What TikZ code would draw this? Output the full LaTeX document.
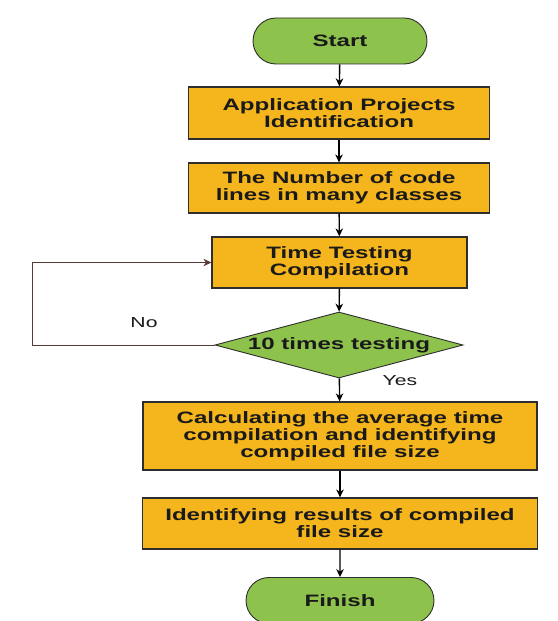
\documentclass[tikz,border=0pt]{standalone}
\usepackage{fontspec}
\setmainfont{Liberation Sans}[FakeStretch=1.46]
\usetikzlibrary{shapes.misc,shapes.geometric,arrows.meta}
\definecolor{boxfill}{HTML}{F5B51C}
\definecolor{termfill}{HTML}{8DC24C}
\definecolor{edgegrey}{HTML}{2E2E2E}
\definecolor{loopcol}{HTML}{5A3A34}
\definecolor{txt}{HTML}{1A1A1A}
\begin{document}
\begin{tikzpicture}[x=1bp,y=-1bp,
  every node/.style={text=txt},
  procbox/.style={rectangle,draw=edgegrey,line width=1.2bp,fill=boxfill,
    align=center,inner sep=0pt,font=\fontsize{16.5bp}{17bp}\selectfont\bfseries},
  term/.style={rounded rectangle,draw=edgegrey,line width=0.9bp,fill=termfill,
    inner sep=0pt,font=\fontsize{16.5bp}{17bp}\selectfont\bfseries},
  decision/.style={diamond,draw=edgegrey,line width=0.9bp,fill=termfill,inner sep=0pt},
  flow/.style={line width=1.4bp,-{Stealth[length=8bp,width=7.5bp]}},
  loopline/.style={draw=loopcol,line width=1bp,-{Stealth[length=8bp,width=7.5bp]}},
  lbl/.style={font=\fontsize{14.5bp}{16bp}\selectfont, inner sep=0pt}]
\useasboundingbox[fill=white] (0,0) rectangle (558,621);

\node[term,minimum width=174bp,minimum height=46bp] (start) at (340,41) {Start};
\node[procbox,minimum width=301bp,minimum height=52bp] (b1) at (339,113)
  {Application Projects\\Identification};
\node[procbox,minimum width=301bp,minimum height=50bp] (b2) at (339,188)
  {The Number of code\\lines in many classes};
\node[procbox,minimum width=255bp,minimum height=51bp] (b3) at (339.5,262.5)
  {Time Testing\\Compilation};
\node[decision,minimum width=248bp,minimum height=66bp] (d) at (339,345) {};
\node[font=\fontsize{16.5bp}{17bp}\selectfont\bfseries,inner sep=0pt] (dt) at (d.center) {10 times testing};
\node[procbox,minimum width=394bp,minimum height=68bp] (b4) at (340,436)
  {Calculating the average time\\compilation and identifying\\compiled file size};
\node[procbox,minimum width=395bp,minimum height=51bp] (b5) at (340,523.5)
  {Identifying results of compiled\\file size};
\node[term,minimum width=188bp,minimum height=46bp] (fin) at (340,600.5) {Finish};

\draw[flow] (start) -- (b1);
\draw[flow] (b1) -- (b2);
\draw[flow] (b2) -- (b3);
\draw[flow] (b3) -- (d);
\draw[flow] (d) -- (b4);
\draw[flow] (b4) -- (b5);
\draw[flow] (b5) -- (fin);

\coordinate (lb) at (32,345);
\coordinate (lt) at (32,262.5);
\draw[loopline] (d.west) -- (lb) -- (lt) -- (b3.west);

\node[lbl] (no) at (144,323) {No};
\node[lbl] (yes) at (400,381) {Yes};
\end{tikzpicture}
\end{document}
